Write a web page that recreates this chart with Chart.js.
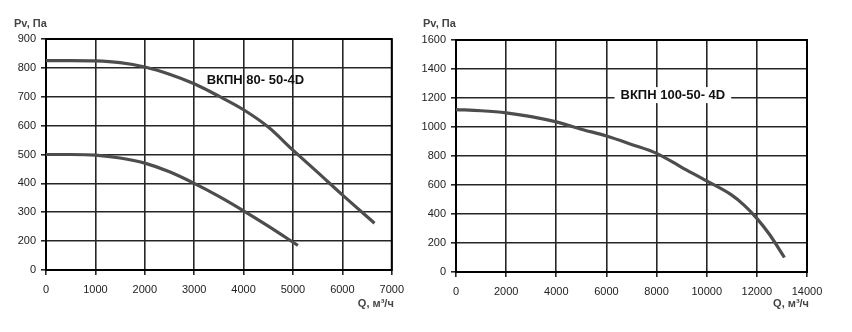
<!DOCTYPE html>
<html>
<head>
<meta charset="utf-8">
<script src="https://cdn.jsdelivr.net/npm/chart.js@4"></script>
<style>
  body { margin: 0; background: #fff; width: 852px; height: 332px; overflow: hidden; position: relative; }
  canvas { position: absolute; top: 0; }
  #left { left: 0; }
  #right { left: 412px; }
</style>
</head>
<body>
<canvas id="left" width="412" height="332"></canvas>
<canvas id="right" width="440" height="332"></canvas>
<script>
// ВКПН 80-50-4D (two curves)
const upperQ = [0, 500, 1000, 1500, 2000, 2500, 3000, 3500, 4000, 4500, 5000, 5500, 6000, 6650];
const upperP = [825, 825, 824, 818, 803, 778, 745, 702, 655, 595, 515, 438, 360, 262];
const lowerQ = [0, 500, 1000, 1500, 2000, 2500, 3000, 3500, 4000, 4500, 5100];
const lowerP = [500, 500, 498, 488, 470, 440, 400, 355, 305, 252, 185];

// ВКПН 100-50-4D
const rightQ = [0, 1000, 2000, 3000, 4000, 5000, 6000, 7000, 8000, 9000, 10000, 11000, 11500, 12000, 12500, 13100];
const rightP = [1120, 1112, 1098, 1072, 1035, 985, 938, 880, 818, 722, 628, 530, 460, 370, 260, 100];

// axes (the left chart's bottom line is labelled "0" in the original)
const leftXTicks = [0, 1000, 2000, 3000, 4000, 5000, 6000, 7000];
const leftYTicks = [100, 200, 300, 400, 500, 600, 700, 800, 900];
const leftYLabels = ['0', '200', '300', '400', '500', '600', '700', '800', '900'];
const rightXTicks = [0, 2000, 4000, 6000, 8000, 10000, 12000, 14000];
const rightYTicks = [0, 200, 400, 600, 800, 1000, 1200, 1400, 1600];

const FONT = "'Liberation Sans', Arial, sans-serif";
const GRID = '#262626';

function toPoints(xs, ys) {
    return xs.map((x, i) => ({ x: x, y: ys[i] }));
}

function curve(xs, ys) {
    return {
        data: toPoints(xs, ys),
        borderColor: '#4d4d4d',
        borderWidth: 3.2,
        pointRadius: 0,
        fill: false,
        cubicInterpolationMode: 'monotone'
    };
}

const decorPlugin = {
    id: 'decor',
    beforeDatasetsDraw(chart, args, opts) {
        const a = chart.chartArea;
        const ctx = chart.ctx;
        ctx.save();
        ctx.strokeStyle = '#000';
        ctx.lineWidth = 2;
        ctx.strokeRect(a.left, a.top, a.right - a.left, a.bottom - a.top);
        ctx.restore();
    },
    afterDatasetsDraw(chart, args, opts) {
        const ctx = chart.ctx;
        const a = chart.chartArea;
        const x = chart.scales.x.getPixelForValue(opts.modelQ);
        const y = chart.scales.y.getPixelForValue(opts.modelP);
        ctx.save();
        ctx.font = 'bold 13px ' + FONT;
        ctx.textAlign = 'center';
        ctx.textBaseline = 'middle';
        if (opts.box) {
            const w = ctx.measureText(opts.model).width + 12;
            ctx.fillStyle = '#fff';
            ctx.fillRect(x - w / 2, y - 8, w, 16);
        }
        ctx.fillStyle = '#111';
        ctx.fillText(opts.model, x, y);

        // axis titles
        ctx.font = 'bold 11px ' + FONT;
        ctx.fillStyle = '#444';
        ctx.textAlign = 'left';
        ctx.fillText('Pv, Па', a.left - opts.titleOffset, 24);
        ctx.textAlign = 'right';
        ctx.fillText('Q, м³/ч', a.right + 2, 304);
        ctx.restore();
    }
};

function makeChart(id, cfg) {
    const ctx = document.getElementById(id).getContext('2d');
    return new Chart(ctx, {
        type: 'line',
        data: { datasets: cfg.datasets },
        options: {
            responsive: false,
            animation: false,
            layout: { padding: { top: cfg.top, right: cfg.right, left: 0, bottom: 0 } },
            plugins: {
                legend: { display: false },
                tooltip: { enabled: false },
                decor: { model: cfg.model, modelQ: cfg.modelQ, modelP: cfg.modelP, box: cfg.box, titleOffset: cfg.titleOffset }
            },
            scales: {
                x: {
                    type: 'linear',
                    min: cfg.xTicks[0],
                    max: cfg.xTicks[cfg.xTicks.length - 1],
                    afterBuildTicks: s => { s.ticks = cfg.xTicks.map(v => ({ value: v })); },
                    afterFit: s => { s.height = cfg.xHeight; },
                    grid: { color: GRID, lineWidth: 1.6, tickLength: 5 },
                    border: { display: false },
                    ticks: {
                        color: '#222',
                        font: { family: FONT, size: 11 },
                        padding: 8,
                        maxRotation: 0,
                        autoSkip: false,
                        callback: v => String(v)
                    }
                },
                y: {
                    type: 'linear',
                    min: cfg.yTicks[0],
                    max: cfg.yTicks[cfg.yTicks.length - 1],
                    afterBuildTicks: s => { s.ticks = cfg.yTicks.map(v => ({ value: v })); },
                    afterFit: s => { s.width = cfg.yWidth; },
                    grid: { color: GRID, lineWidth: 1.6, tickLength: 5 },
                    border: { display: false },
                    ticks: {
                        color: '#222',
                        font: { family: FONT, size: 11 },
                        padding: 5,
                        autoSkip: false,
                        callback: (v, i) => cfg.yLabels ? cfg.yLabels[i] : String(v)
                    }
                }
            }
        },
        plugins: [decorPlugin]
    });
}

makeChart('left', {
    datasets: [curve(upperQ, upperP), curve(lowerQ, lowerP)],
    xTicks: leftXTicks,
    yTicks: leftYTicks,
    yLabels: leftYLabels,
    top: 39, right: 17, xHeight: 62, yWidth: 46,
    model: 'ВКПН 80- 50-4D', modelQ: 4240, modelP: 758, box: false, titleOffset: 32
});

makeChart('right', {
    datasets: [curve(rightQ, rightP)],
    xTicks: rightXTicks,
    yTicks: rightYTicks,
    yLabels: null,
    top: 40, right: 45, xHeight: 60, yWidth: 44,
    model: 'ВКПН 100-50- 4D', modelQ: 8650, modelP: 1220, box: true, titleOffset: 33
});
</script>
</body>
</html>
